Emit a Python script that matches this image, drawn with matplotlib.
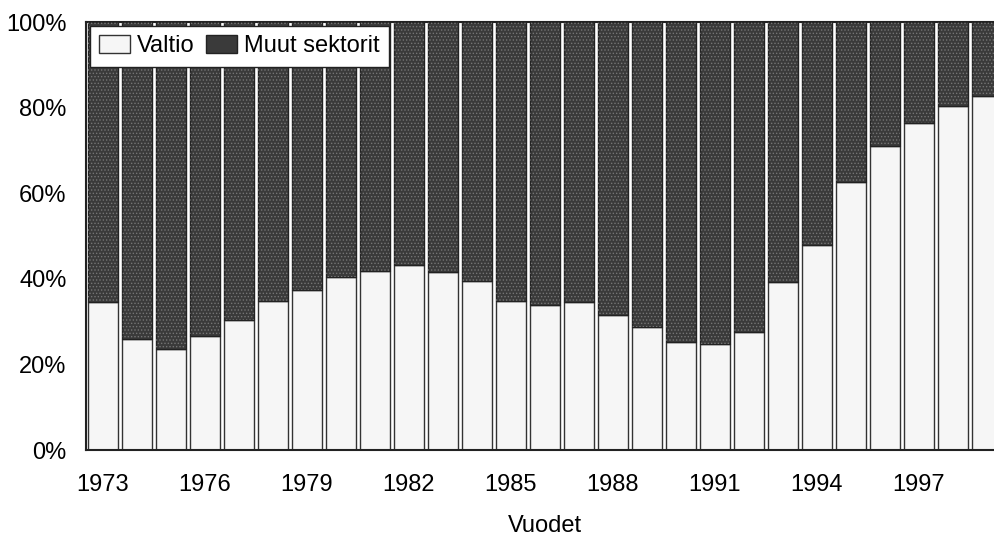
import numpy as np
import matplotlib
matplotlib.use('Agg')
import matplotlib.pyplot as plt
from matplotlib.ticker import FuncFormatter

# Data: share of the state (Valtio), remainder = other sectors (%)
years = list(range(1973, 2000))
valtio = [34.6, 25.9, 23.6, 26.6, 30.4, 34.8, 37.4, 40.4, 41.8, 43.2,
          41.6, 39.5, 34.8, 33.9, 34.6, 31.5, 28.7, 25.2, 24.8, 27.6,
          39.3, 47.9, 62.6, 71.0, 76.4, 80.4, 82.7]
muut = [100 - v for v in valtio]
tick_years = [1973, 1976, 1979, 1982, 1985, 1988, 1991, 1994, 1997]

plt.rcParams['font.family'] = ['Liberation Sans', 'DejaVu Sans']
plt.rcParams['hatch.linewidth'] = 0.6

fig = plt.figure(figsize=(9.94, 5.37), dpi=100)
ax = fig.add_axes([0.0865, 0.162, 0.9235, 0.797])

w = 0.86
ax.bar(years, valtio, width=w, color='#f6f6f6', edgecolor='#333333', lw=1.0,
       label='Valtio', zorder=2)
ax.bar(years, muut, width=w, bottom=valtio, color='#3a3a3a', edgecolor='#222222',
       lw=1.0, label='Muut sektorit', zorder=2)
# texture overlay for the dark part
ax.bar(years, muut, width=w, bottom=valtio, facecolor='none', edgecolor='#757575',
       hatch='.....', lw=0, zorder=3)

ax.set_xlim(1972.5, 1999.5)
ax.set_ylim(0, 100)
ax.set_yticks([0, 20, 40, 60, 80, 100])
ax.yaxis.set_major_formatter(FuncFormatter(lambda v, p: f'{int(v)}%'))
ax.set_xticks(tick_years)
ax.tick_params(axis='both', length=0, labelsize=17)
ax.tick_params(axis='y', pad=14)
ax.tick_params(axis='x', pad=17)
ax.set_xlabel('Vuodet', fontsize=17, labelpad=14)

for s in ['left', 'bottom', 'top']:
    ax.spines[s].set_linewidth(1.5)
    ax.spines[s].set_color('#222222')
ax.spines['right'].set_visible(False)

leg = ax.legend(loc='upper left', ncol=2, fontsize=17, frameon=True, fancybox=False,
                edgecolor='#222222', framealpha=1, borderaxespad=0.15,
                handlelength=1.3, handleheight=0.8, handletextpad=0.3,
                columnspacing=0.5, borderpad=0.4)
leg.get_frame().set_linewidth(1.0)
leg.set_zorder(5)

fig.savefig('out.png', dpi=100)
